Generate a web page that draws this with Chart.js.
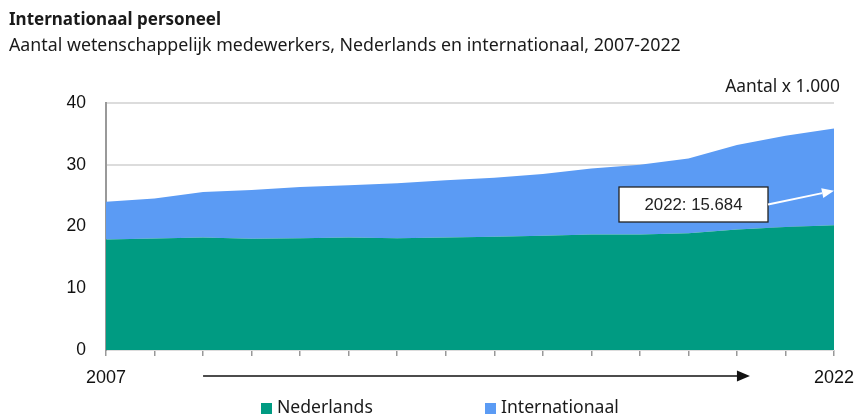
<!DOCTYPE html>
<html>
<head>
<meta charset="utf-8">
<script src="https://cdn.jsdelivr.net/npm/chart.js@4"></script>
<style>
  html, body { margin: 0; padding: 0; background: #fff; }
  #wrap { width: 856px; height: 417px; position: relative; }
</style>
</head>
<body>
<div id="wrap"><canvas id="chart"></canvas></div>
<script>
// Data (x 1.000)
const years = ['2007', '2008', '2009', '2010', '2011', '2012', '2013', '2014',
  '2015', '2016', '2017', '2018', '2019', '2020', '2021', '2022'];
const nederlands = [17.9, 18.05, 18.2, 18.0, 18.1, 18.2, 18.1, 18.2,
  18.35, 18.5, 18.7, 18.7, 18.9, 19.5, 19.9, 20.2];
const internationaal = [6.1, 6.5, 7.4, 7.9, 8.3, 8.5, 8.9, 9.3,
  9.55, 10.0, 10.7, 11.3, 12.1, 13.7, 14.8, 15.684];
const yTicks = [0, 10, 20, 30, 40];
const shownYears = ['2007', '2022'];
const annotationText = '2022: 15.684';

const GREEN = '#009b82';
const BLUE = '#5b9bf4';
const SANS = '"Noto Sans", sans-serif';
const ARIAL = '"Liberation Sans", Arial, sans-serif';

// Titles, unit, annotation, time arrow and legend
const extras = {
  id: 'extras',
  afterDraw(chart) {
    const { ctx, chartArea, scales } = chart;
    const x = scales.x, y = scales.y;
    ctx.save();

    // title + subtitle
    ctx.fillStyle = '#1a1a1a';
    ctx.textBaseline = 'alphabetic';
    ctx.textAlign = 'left';
    ctx.font = 'bold 17px ' + SANS;
    ctx.fillText('Internationaal personeel', 9, 25);
    ctx.font = '17.8px ' + SANS;
    ctx.fillText('Aantal wetenschappelijk medewerkers, Nederlands en internationaal, 2007-2022', 9, 51);

    // unit label
    ctx.textAlign = 'right';
    ctx.font = '17.4px ' + SANS;
    ctx.fillText('Aantal x 1.000', chartArea.right + 6, 92);

    // annotation box
    const last = years.length - 1;
    const tipX = x.getPixelForValue(last);
    const tipY = y.getPixelForValue(25.8);
    const bx = 619, by = 187, bw = 149, bh = 35;
    ctx.fillStyle = '#fff';
    ctx.fillRect(bx, by, bw, bh);
    ctx.strokeStyle = '#222';
    ctx.lineWidth = 1.3;
    ctx.strokeRect(bx, by, bw, bh);
    ctx.fillStyle = '#222';
    ctx.textAlign = 'center';
    ctx.textBaseline = 'middle';
    ctx.font = '16.8px ' + ARIAL;
    ctx.fillText(annotationText, bx + bw / 2, by + bh / 2 + 1);

    // white arrow to the 2022 value
    const sx = bx + bw, sy = by + bh / 2;
    const ang = Math.atan2(tipY - sy, tipX - sx);
    const hl = 12, hw = 5;
    const baseX = tipX - hl * Math.cos(ang), baseY = tipY - hl * Math.sin(ang);
    ctx.strokeStyle = '#fff';
    ctx.fillStyle = '#fff';
    ctx.lineWidth = 2;
    ctx.beginPath();
    ctx.moveTo(sx, sy);
    ctx.lineTo(baseX, baseY);
    ctx.stroke();
    ctx.beginPath();
    ctx.moveTo(tipX, tipY);
    ctx.lineTo(baseX + hw * Math.sin(ang), baseY - hw * Math.cos(ang));
    ctx.lineTo(baseX - hw * Math.sin(ang), baseY + hw * Math.cos(ang));
    ctx.closePath();
    ctx.fill();

    // time arrow below the axis
    const ax0 = x.getPixelForValue(2), ax1 = x.getPixelForValue(13) + 13;
    const ay = 376;
    ctx.strokeStyle = '#111';
    ctx.fillStyle = '#111';
    ctx.lineWidth = 1.5;
    ctx.beginPath();
    ctx.moveTo(ax0, ay);
    ctx.lineTo(ax1 - 12, ay);
    ctx.stroke();
    ctx.beginPath();
    ctx.moveTo(ax1, ay);
    ctx.lineTo(ax1 - 13, ay - 5.5);
    ctx.lineTo(ax1 - 13, ay + 5.5);
    ctx.closePath();
    ctx.fill();

    // legend
    const legendX = [261, 485];
    ctx.textAlign = 'left';
    ctx.textBaseline = 'middle';
    ctx.font = '17.6px ' + SANS;
    chart.data.datasets.forEach((ds, i) => {
      ctx.fillStyle = ds.backgroundColor;
      ctx.fillRect(legendX[i], 403, 11, 11);
      ctx.fillStyle = '#1a1a1a';
      ctx.fillText(ds.label, legendX[i] + 16, 408);
    });

    ctx.restore();
  }
};

new Chart(document.getElementById('chart'), {
  type: 'line',
  data: {
    labels: years,
    datasets: [{
      label: 'Nederlands',
      data: nederlands,
      backgroundColor: GREEN,
      borderWidth: 0,
      pointRadius: 0,
      fill: 'origin'
    }, {
      label: 'Internationaal',
      data: internationaal,
      backgroundColor: BLUE,
      borderWidth: 0,
      pointRadius: 0,
      fill: '-1'
    }]
  },
  options: {
    responsive: true,
    maintainAspectRatio: false,
    animation: false,
    layout: { padding: { top: 103, right: 22, bottom: 0, left: 0 } },
    plugins: {
      legend: { display: false },
      tooltip: { enabled: false }
    },
    scales: {
      x: {
        stacked: true,
        offset: false,
        afterFit(scale) {
          scale.height = 67;
          scale.paddingLeft = 0;
          scale.paddingRight = 0;
        },
        border: { display: false },
        grid: {
          drawOnChartArea: false,
          drawTicks: true,
          tickLength: 6,
          color: '#999',
          lineWidth: 1.5
        },
        ticks: {
          autoSkip: false,
          maxRotation: 0,
          padding: 11,
          color: '#111',
          font: { family: ARIAL, size: 18 },
          callback(value, index) {
            const lab = years[index];
            return shownYears.includes(lab) ? lab : '';
          }
        }
      },
      y: {
        stacked: true,
        min: 0,
        max: 40,
        afterFit(scale) {
          scale.width = 106;
          scale.paddingTop = 0;
          scale.paddingBottom = 0;
        },
        afterBuildTicks(scale) { scale.ticks = yTicks.map(v => ({ value: v })); },
        border: { display: true, color: '#999', width: 2 },
        grid: {
          drawTicks: false,
          color: '#dcdcdc',
          lineWidth: 2
        },
        ticks: {
          padding: 20,
          color: '#111',
          font: { family: ARIAL, size: 17.5 }
        }
      }
    }
  },
  plugins: [extras]
});
</script>
</body>
</html>
